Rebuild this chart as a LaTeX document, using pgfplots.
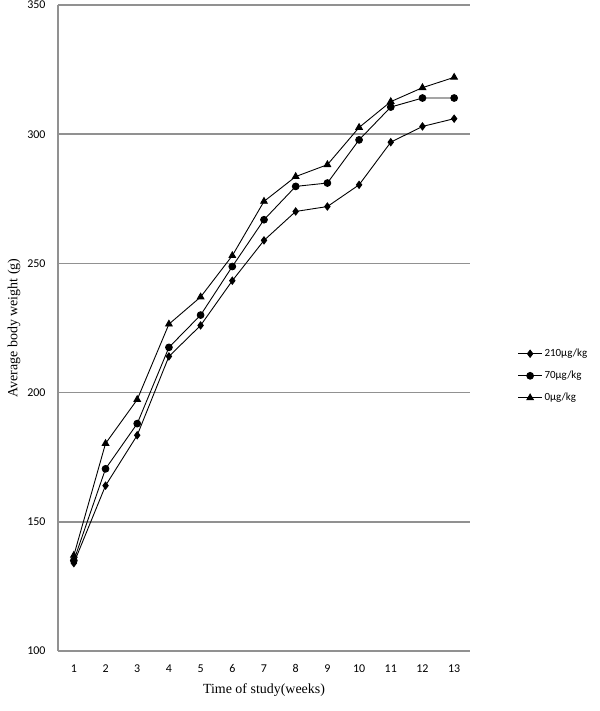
\documentclass[border=0pt]{standalone}
\usepackage{fontspec}
\setmainfont{Liberation Serif}
\newfontfamily\carlito{Carlito}
\usepackage{pgfplots}
\pgfplotsset{compat=1.18}
\definecolor{gridgray}{RGB}{145,145,145}
\begin{document}
\begin{tikzpicture}
\path[use as bounding box] (-58bp,-60bp) rectangle (542bp,651bp);
\begin{axis}[
  scale only axis,
  width=412bp, height=646bp,
  xmin=0.5, xmax=13.5,
  ymin=100, ymax=350,
  xtick={1,...,13},
  ytick={100,150,200,250,300,350},
  axis lines*=left,
  axis line style={gridgray, line width=1.6pt, -},
  ymajorgrids,
  grid style={gridgray, line width=1.6pt},
  major tick length=0pt,
  tick style={draw=none},
  /pgf/number format/assume math mode=true,
  ticklabel style={font=\carlito\fontsize{12}{14}\selectfont},
  xticklabel style={yshift=-10bp},
  yticklabel style={xshift=-9bp},
  xlabel={Time of study(weeks)},
  ylabel={Average body weight (g)},
  label style={font=\fontsize{14}{16}\selectfont},
  xlabel style={yshift=-4bp},
  ylabel style={yshift=0bp},
  legend style={draw=none, fill=none, font=\carlito\fontsize{11}{13}\selectfont,
    at={(1.108,0.426)}, anchor=west, row sep=9bp,
    legend cell align=left},
  legend image code/.code={
    \draw[mark repeat=2,mark phase=2,#1] plot coordinates {(0bp,0bp) (12bp,0bp) (24bp,0bp)};},
]
\addplot[black, line width=0.9pt, mark=diamond*, mark size=3.6pt, mark options={solid}] coordinates {
(1,134) (2,164) (3,183.5) (4,214) (5,226) (6,243.3) (7,258.9) (8,270.1) (9,272) (10,280.4) (11,296.9) (12,303) (13,306)};
\addlegendentry{210µg/kg}
\addplot[black, line width=0.9pt, mark=*, mark size=3.4pt] coordinates {
(1,135) (2,170.5) (3,188) (4,217.5) (5,230) (6,248.8) (7,266.9) (8,279.8) (9,281.1) (10,297.8) (11,310.5) (12,314) (13,314)};
\addlegendentry{70µg/kg}
\addplot[black, line width=0.9pt, mark=triangle*, mark size=3.8pt] coordinates {
(1,137) (2,180.3) (3,197.3) (4,226.5) (5,237) (6,253) (7,274) (8,283.6) (9,288.2) (10,302.6) (11,312.6) (12,318) (13,322)};
\addlegendentry{0µg/kg}
\end{axis}
\end{tikzpicture}
\end{document}
